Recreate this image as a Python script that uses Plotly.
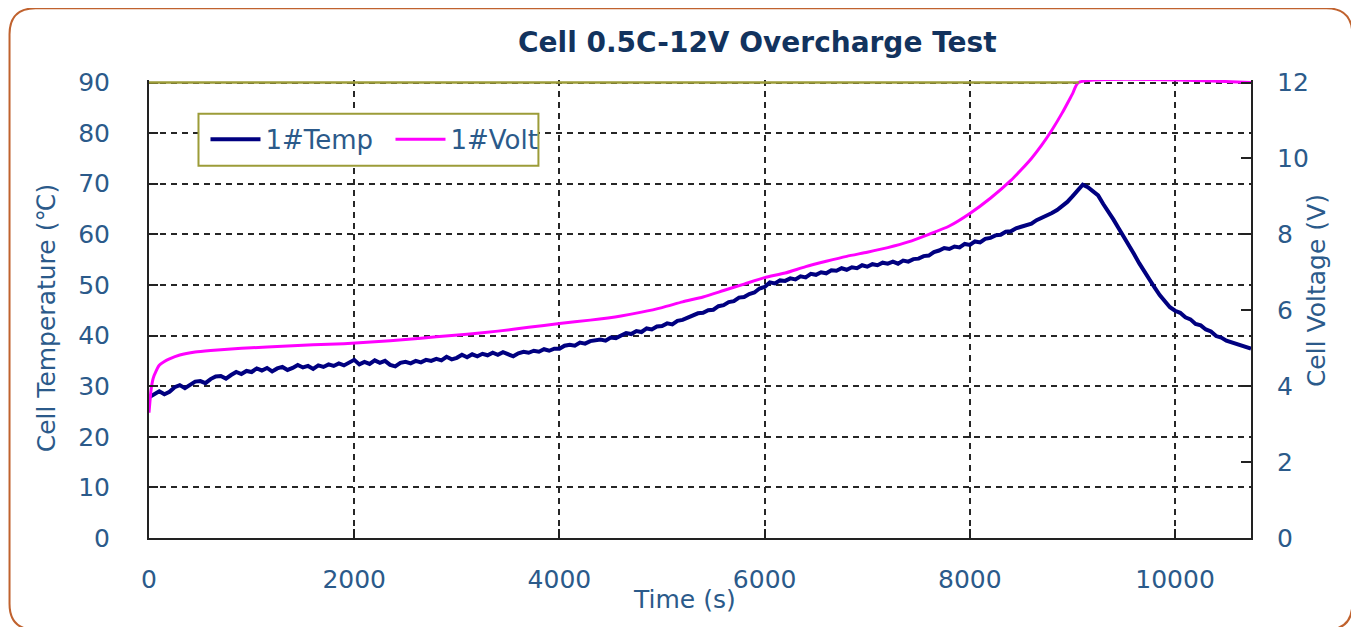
import plotly.graph_objects as go

# ---------------- data ----------------
temp_time = list(range(0, 10701, 50)) + [10740]
temp_vals = [
    27.8, 28.5, 29.0, 28.4, 28.9, 29.8, 30.2, 29.6, 30.3, 30.9, 31.0, 30.6, 31.4, 31.9, 32.0, 31.5, 32.2, 32.8, 32.4, 33.0,
    32.8, 33.5, 33.1, 33.6, 32.9, 33.5, 33.8, 33.2, 33.6, 34.2, 33.7, 34.0, 33.4, 34.1, 33.8, 34.3, 34.0, 34.5, 34.1, 34.7,
    35.2, 34.3, 34.8, 34.4, 35.1, 34.6, 35.0, 34.2, 33.9, 34.6, 34.8, 34.5, 35.0, 34.7, 35.2, 35.0, 35.4, 35.1, 35.8, 35.3,
    35.6, 36.2, 35.7, 36.3, 35.9, 36.4, 36.1, 36.6, 36.2, 36.7, 36.4, 35.9, 36.5, 36.8, 36.6, 37.0, 36.8, 37.3, 37.0, 37.4,
    37.4, 38.0, 38.2, 38.0, 38.6, 38.4, 38.9, 39.0, 39.2, 39.0, 39.6, 39.5, 39.9, 40.5, 40.3, 40.9, 40.7, 41.4, 41.2, 41.8,
    41.9, 42.4, 42.2, 42.9, 43.1, 43.5, 43.8, 44.4, 44.5, 45.0, 45.1, 45.8, 46.0, 46.6, 46.8, 47.5, 47.6, 48.2, 48.5, 49.3,
    49.6, 50.5, 50.3, 50.9, 50.8, 51.3, 51.1, 51.7, 51.5, 52.2, 52.0, 52.5, 52.3, 52.9, 52.8, 53.3, 53.0, 53.5, 53.3, 53.9,
    53.6, 54.1, 53.9, 54.4, 54.2, 54.6, 54.2, 54.8, 54.6, 55.1, 55.2, 55.7, 55.8, 56.5, 56.8, 57.3, 57.1, 57.6, 57.4, 58.1,
    57.9, 58.6, 58.4, 59.1, 59.3, 59.8, 59.9, 60.5, 60.6, 61.2, 61.5, 61.9, 62.1, 62.8, 63.2, 63.6, 64.2, 64.8, 65.6, 66.4,
    67.5, 68.6, 69.8, 69.3, 68.6, 67.7, 66.0, 64.6, 62.9, 61.2, 59.6, 58.0, 56.1, 54.3, 52.6, 51.1, 49.5, 48.0, 46.7, 45.6,
    44.9, 44.5, 43.6, 43.2, 42.3, 42.0, 41.2, 40.8, 39.9, 39.6, 39.0, 38.7, 38.2, 37.9, 37.6,
    37.4,
]

volt_time = [0, 20, 40, 70, 100, 150, 200, 300, 450, 600,
             800, 1000, 1300, 1600, 1900, 2200, 2500, 2800, 3100, 3400,
             3700, 4000, 4300, 4600, 4800, 5000, 5200, 5400, 5600, 5800,
             6000, 6200, 6400, 6600, 6800, 7000, 7200, 7400, 7600, 7800,
             8000, 8200, 8400, 8500, 8600, 8700, 8800, 8900, 9000, 9060,
             10740]
volt_vals = [3.30, 3.90, 4.20, 4.40, 4.55, 4.65, 4.72, 4.82, 4.90, 4.94,
             4.98, 5.01, 5.05, 5.09, 5.12, 5.17, 5.23, 5.30, 5.37, 5.45,
             5.55, 5.65, 5.74, 5.85, 5.95, 6.07, 6.22, 6.35, 6.52, 6.69,
             6.86, 6.98, 7.15, 7.29, 7.42, 7.53, 7.65, 7.80, 8.00, 8.22,
             8.55, 8.95, 9.42, 9.70, 10.00, 10.35, 10.75, 11.20, 11.70, 12.0,
             12.0]

x_ticks = [0, 2000, 4000, 6000, 8000, 10000]
x_tick_text = ["0", "2000", "4000", "6000", "8000", "10000"]
temp_ticks = [0, 10, 20, 30, 40, 50, 60, 70, 80, 90]
volt_ticks = [0, 2, 4, 6, 8, 10, 12]

# ---------------- layout helpers (page pixel coords -> paper) ----------------
OFF = 8                      # page body margin
EXT = 2.5                    # extra px above top border so the 12 V line is not clipped
W, H = 1359 - OFF, 627 - OFF
L, R, T, B = 148.5 - OFF, 1250.7 - OFF, 82.7 - OFF - EXT, 538.2 - OFF
PW, PH = R - L, B - T
PH0 = PH - EXT
TEMP_TOP = 90 * PH / PH0
VOLT_TOP = 12 * PH / PH0


def px(xp):
    return (xp - OFF - L) / PW


def py(yp):
    return (B - (yp - OFF)) / PH


LABEL = "#2b5a8a"
TITLE = "#12335e"
OLIVE = "#9c9c38"
FONT = "DejaVu Sans"

fig = go.Figure()
fig.add_trace(go.Scatter(x=temp_time, y=temp_vals, name="1#Temp", mode="lines",
                         line=dict(color="#000080", width=4), yaxis="y"))
fig.add_trace(go.Scatter(x=volt_time, y=volt_vals, name="1#Volt", mode="lines",
                         line=dict(color="#ff00ff", width=3, shape="spline", smoothing=0.6),
                         yaxis="y2"))

grid = dict(showgrid=True, gridcolor="#262626", gridwidth=2, griddash="6px,5px")

fig.update_layout(
    width=W, height=H,
    margin=dict(l=L, r=W - R, t=T, b=H - B, pad=0),
    paper_bgcolor="white", plot_bgcolor="white",
    font=dict(family=FONT, size=25, color=LABEL),
    showlegend=True,
    legend=dict(orientation="h", x=px(205), y=py(116), xanchor="left", yanchor="top",
                bgcolor="rgba(0,0,0,0)", borderwidth=0,
                font=dict(family=FONT, size=26, color=LABEL),
                itemwidth=50, entrywidth=120, tracegroupgap=0),
    xaxis=dict(range=[0, 10740], tickvals=x_ticks, ticktext=x_tick_text, ticks="inside",
               ticklen=9, tickcolor="#222222", tickwidth=1.5, showline=True,
               linecolor="#222222", linewidth=2, zeroline=False, ticklabelstandoff=18,
               tickfont=dict(family=FONT, size=25, color=LABEL), **grid),
    yaxis=dict(range=[0, TEMP_TOP], tickvals=temp_ticks, ticks="inside", ticklen=9,
               tickcolor="#222222", tickwidth=1.5, showline=True, linecolor="#222222",
               linewidth=2, zeroline=False, ticklabelstandoff=32,
               tickfont=dict(family=FONT, size=25, color=LABEL), **grid),
    yaxis2=dict(range=[0, VOLT_TOP], tickvals=volt_ticks, overlaying="y", side="right",
                ticks="inside", ticklen=10, tickcolor="#222222", tickwidth=1.5,
                showline=True, linecolor="#222222", linewidth=2, showgrid=False,
                zeroline=False, ticklabelstandoff=19,
                tickfont=dict(family=FONT, size=25, color=LABEL)),
)

# top border (olive) at the 90 / 12 level, up to where the voltage line takes over
fig.add_shape(type="line", xref="x", yref="y", x0=0, x1=9062, y0=90, y1=90,
              line=dict(color=OLIVE, width=2.5), layer="above")

# legend box
fig.add_shape(type="rect", xref="paper", yref="paper",
              x0=px(198), x1=px(538), y0=py(166), y1=py(114),
              fillcolor="white", line=dict(color=OLIVE, width=2), layer="above")

# outer rounded frame
x0, x1, y0, y1, r = 9, 1352, 8.5, 630, 26
path = (f"M {px(x0 + r)} {py(y0)} L {px(x1 - r)} {py(y0)} "
        f"Q {px(x1)} {py(y0)} {px(x1)} {py(y0 + r)} L {px(x1)} {py(y1 - r)} "
        f"Q {px(x1)} {py(y1)} {px(x1 - r)} {py(y1)} L {px(x0 + r)} {py(y1)} "
        f"Q {px(x0)} {py(y1)} {px(x0)} {py(y1 - r)} L {px(x0)} {py(y0 + r)} "
        f"Q {px(x0)} {py(y0)} {px(x0 + r)} {py(y0)} Z")
fig.add_shape(type="path", xref="paper", yref="paper", path=path,
              line=dict(color="#c0622e", width=2), layer="above")

# title and axis titles
ann = dict(xref="paper", yref="paper", showarrow=False, xanchor="center", yanchor="middle")
fig.add_annotation(text="<b>Cell 0.5C-12V Overcharge Test</b>", x=px(757), y=py(43),
                   font=dict(family=FONT, size=28, color=TITLE), **ann)
fig.add_annotation(text="Cell Temperature (℃)", x=px(46), y=py(318), textangle=-90,
                   font=dict(family=FONT, size=25, color=LABEL), **ann)
fig.add_annotation(text="Cell Voltage (V)", x=px(1317), y=py(291), textangle=-90,
                   font=dict(family=FONT, size=25, color=LABEL), **ann)
fig.add_annotation(text="Time (s)", x=px(684), y=py(600),
                   font=dict(family=FONT, size=25, color=LABEL), **ann)

fig.write_html("out.html")
